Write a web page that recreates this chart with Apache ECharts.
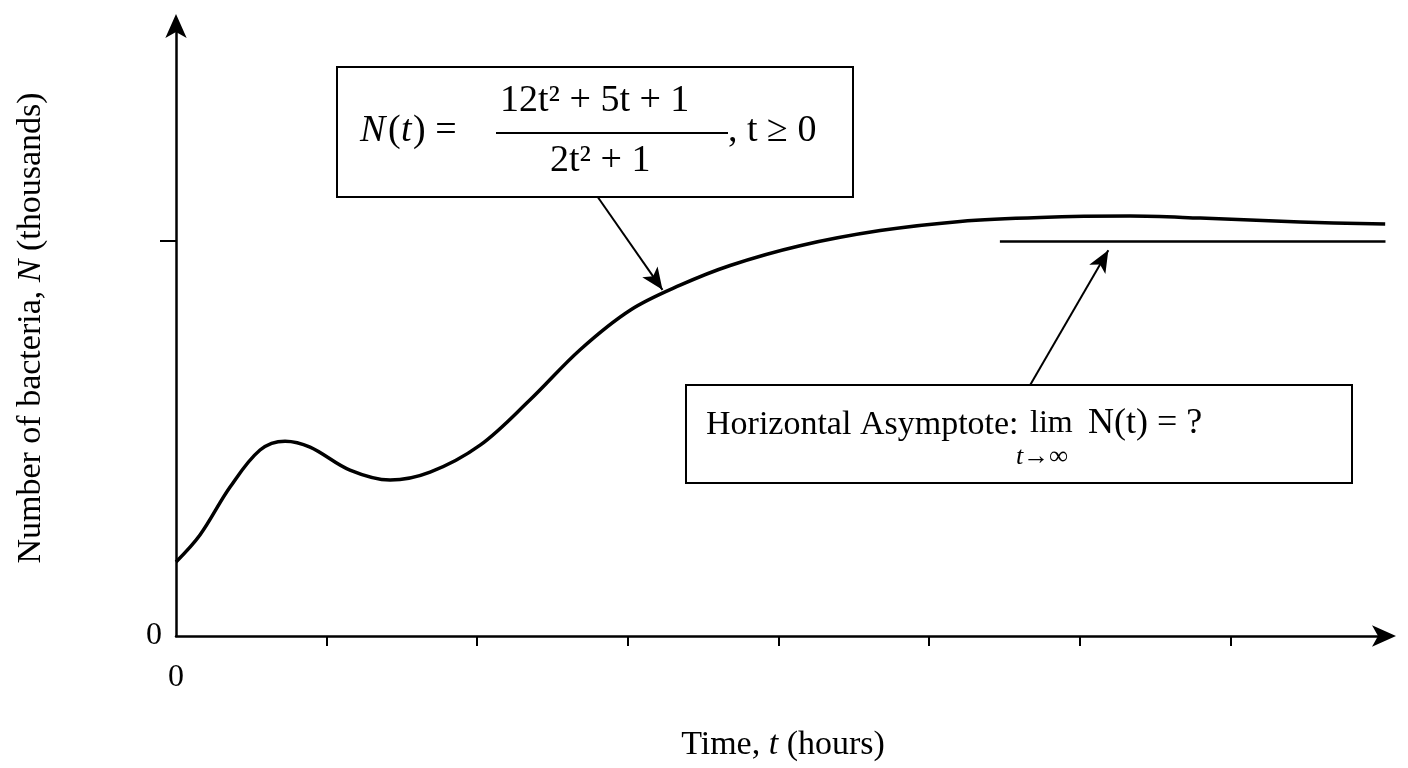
<!DOCTYPE html>
<html><head><meta charset="utf-8">
<script src="https://cdn.jsdelivr.net/npm/echarts@6/dist/echarts.min.js"></script>
<style>html,body{margin:0;background:#fff}#c{width:1408px;height:768px}</style>
</head><body><div id="c"></div>
<script>
const curveX = [0,0.159,0.359,0.558,0.724,0.890,1.155,1.421,1.687,2.019,2.351,2.683,3.015,3.347,3.679,4.143,4.675,5.206,5.737,6.335,6.800,7.463,8.028];
const curveY = [1.124,1.534,2.263,2.826,2.96,2.87,2.52,2.37,2.49,2.90,3.59,4.35,4.95,5.33,5.63,5.93,6.16,6.30,6.36,6.38,6.35,6.29,6.26];
const asymptote = 6;
const asymX = [5.47, 8.03];
const xTicks = [1,2,3,4,5,6,7];
const arrow1 = [[2.80,6.67],[3.23,5.26]];
const arrow2 = [[5.67,3.81],[6.19,5.86]];

const serif = '"Liberation Serif","DejaVu Serif",serif';
const data = curveX.map((x,i)=>[x,curveY[i]]);
const chart = echarts.init(document.getElementById('c'));
const txt = (x,y,s,extra)=>({type:'text',left:x,top:y,style:Object.assign({text:s,font:'34px '+serif,fill:'#000'},extra||{})});
chart.setOption({
  animation:false,
  grid:{left:176,right:18,top:20,bottom:132},
  xAxis:{type:'value',min:0,max:8.06,interval:1,
    axisLine:{lineStyle:{color:'#000',width:2.5},symbol:['none','arrow'],symbolSize:[16,24],symbolOffset:[0,6]},
    axisTick:{length:10,lineStyle:{color:'#000',width:2},customValues:xTicks},
    splitLine:{show:false},
    axisLabel:{customValues:[0],formatter:v=>v===0?'0':'',color:'#000',fontSize:32,fontFamily:serif,margin:26},
    name:'{a|Time, }{i|t}{a| (hours)}',nameLocation:'middle',nameGap:92,
    nameTextStyle:{rich:{a:{fontSize:34,fontFamily:serif,color:'#000'},i:{fontSize:34,fontFamily:serif,fontStyle:'italic',color:'#000'}}}},
  yAxis:{type:'value',min:0,max:9.36,interval:6,
    axisLine:{lineStyle:{color:'#000',width:2.5},symbol:['none','arrow'],symbolSize:[16,24],symbolOffset:[0,6]},
    axisTick:{show:true,length:16,lineStyle:{color:'#000',width:2},customValues:[asymptote]},
    splitLine:{show:false},
    axisLabel:{customValues:[0],formatter:v=>v===0?'0':'',color:'#000',fontSize:32,fontFamily:serif,margin:14},
    name:'{a|Number of bacteria, }{i|N}{a| (thousands)}',nameLocation:'middle',nameGap:128,
    nameTextStyle:{rich:{a:{fontSize:34,fontFamily:serif,color:'#000'},i:{fontSize:34,fontFamily:serif,fontStyle:'italic',color:'#000'}}}},
  series:[{type:'line',data:data,smooth:0.35,symbol:'none',lineStyle:{color:'#000',width:3.5,join:'round'},
    markLine:{silent:true,animation:false,label:{show:false},data:[
      [{coord:[asymX[0],asymptote],symbol:'none'},{coord:[asymX[1],asymptote],symbol:'none',lineStyle:{color:'#000',width:2.5,type:'solid'}}],
      [{coord:arrow1[0],symbol:'none'},{coord:arrow1[1],symbol:'arrow',symbolSize:[14,22],lineStyle:{color:'#000',width:2,type:'solid'}}],
      [{coord:arrow2[0],symbol:'none'},{coord:arrow2[1],symbol:'arrow',symbolSize:[14,22],lineStyle:{color:'#000',width:2,type:'solid'}}]
    ],lineStyle:{color:'#000',width:2,type:'solid'}}}],
  graphic:[
    {type:'rect',shape:{x:337,y:67,width:516,height:130},style:{fill:'#fff',stroke:'#000',lineWidth:2}},
    txt(360,112,'N',{font:'italic 38px '+serif}),
    txt(388,112,'(',{font:'38px '+serif}),
    txt(401,112,'t',{font:'italic 38px '+serif}),
    txt(413,112,') =',{font:'38px '+serif}),
    txt(500,82,'12t² + 5t + 1',{font:'38px '+serif}),
    {type:'line',shape:{x1:496,y1:133,x2:728,y2:133},style:{stroke:'#000',lineWidth:2}},
    txt(550,142,'2t² + 1',{font:'38px '+serif}),
    txt(728,112,', t ≥ 0',{font:'38px '+serif}),
    {type:'rect',shape:{x:686,y:385,width:666,height:98},style:{fill:'#fff',stroke:'#000',lineWidth:2}},
    txt(706,408,'Horizontal Asymptote:',{font:'34px '+serif}),
    txt(1030,408,'lim',{font:'32px '+serif}),
    txt(1016,444,'t→∞',{font:'italic 26px '+serif}),
    txt(1088,406,'N(t) = ?',{font:'36px '+serif})
  ]
});
</script></body></html>
